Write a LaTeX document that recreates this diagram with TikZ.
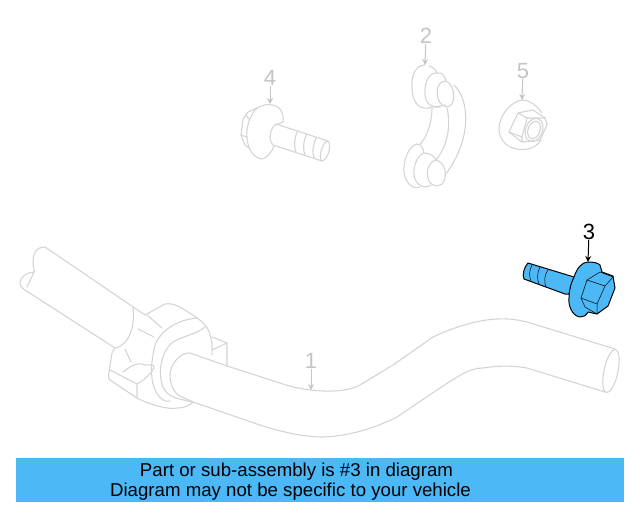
\documentclass[tikz,border=0pt]{standalone}
\usepackage{fontspec}
\setmainfont{Liberation Sans}
\usetikzlibrary{arrows.meta}
\usetikzlibrary{positioning}
\definecolor{ghostgray}{HTML}{D4D4D4}
\definecolor{labelgray}{HTML}{C4C4C4}
\definecolor{partblue}{HTML}{4DB8F6}
\tikzset{
  ghost/.style={draw=ghostgray,line width=1.1pt,line join=round,line cap=round},
  ghostlabel/.style={text=labelgray,font=\fontsize{22}{22}\selectfont,inner sep=0pt},
  ghostarrow/.style={draw=labelgray,line width=1pt,-{Stealth[length=6pt,width=6pt]}},
  part/.style={draw=black,line width=1pt,line join=round,fill=partblue},
  partline/.style={draw=black,line width=.5pt},
  banner/.style={fill=partblue,minimum width=608pt,minimum height=44pt,inner sep=0pt}
}
\begin{document}
\begin{tikzpicture}[x=1pt,y=-1pt]
    \useasboundingbox (0,0) rectangle (640,512);
    % sway bar
    \draw[ghost] (45,247) .. controls (35,247) and (33,255) .. (33,262) .. controls (33,268) and (35,272) .. (34,272) .. controls (28,272) and (20,277) .. (20,282) .. controls (20,286) and (22,288) .. (25,290) -- (115,348);
    \draw[ghost] (34,272) -- (27,287);
    \draw[ghost] (45,247) -- (145,315);
    \draw[ghost] (133,308) .. controls (135,325) and (130,345) .. (115,348);
    % clamp
    \draw[ghost] (145,315) -- (165,304) .. controls (175,302) and (185,310) .. (197,318) .. controls (208,325) and (213,335) .. (212,355);
    \draw[ghost] (115,348) -- (112,353) -- (109,372) .. controls (108,378) and (109,380) .. (110,380) -- (137,398) .. controls (150,405) and (170,410) .. (177,408) .. controls (185,408) and (190,405) .. (193,402);
    \draw[ghost] (110,370) -- (137,384) -- (137,398);
    \draw[ghost] (137,384) .. controls (145,380) and (152,372) .. (154,368) .. controls (155,364) and (148,365) .. (145,365) .. controls (138,362) and (132,365) .. (123,372);
    \draw[ghost] (125,349) -- (131,362);
    \draw[ghost] (138,329) -- (154,337);
    \draw[ghost] (147,315) -- (162,328);
    \draw[ghost] (197,318) .. controls (175,320) and (160,332) .. (155,345) .. controls (150,365) and (150,385) .. (158,395) .. controls (162,400) and (165,402) .. (170,401);
    \draw[ghost] (205,327) .. controls (195,335) and (185,335) .. (173,342) .. controls (160,352) and (158,375) .. (163,387) .. controls (168,397) and (175,398) .. (192,402);
    \draw[ghost] (212,337) -- (227,343) -- (227,366);
    \draw[ghost] (212,350) -- (227,343);
    % tube
    \draw[ghost] (190,353) .. controls (180,352) and (170,365) .. (170,375) .. controls (170,385) and (175,395) .. (182,397) -- (193,402) -- (257,424) .. controls (280,432) and (305,437) .. (323,437) .. controls (350,436) and (375,428) .. (397,417) -- (440,388) .. controls (460,375) and (470,368) .. (483,368) .. controls (495,366) and (510,365) .. (527,368) -- (605,392);
    \draw[ghost] (190,353) -- (227,366) -- (283,384) .. controls (300,390) and (340,396) .. (360,385) -- (393,365) -- (433,337) .. controls (465,322) and (490,318) .. (507,319) .. controls (515,319) and (522,321) .. (527,322) -- (615,349);
    \draw[ghost,rotate around={-12:(611,371)}] (611,371) ellipse (7 and 22);
    \node[ghostlabel] (lab1) at (311,361) {1};
    \coordinate (tip1) at (311,390);
    \draw[ghostarrow] (lab1) -- (tip1);
    % link
    \draw[ghost] (425,65) .. controls (416,65) and (411,75) .. (412,88) .. controls (412,100) and (418,110) .. (428,108) .. controls (432,106) and (440,107) .. (445,105);
    \draw[ghost] (429,66) .. controls (433,67) and (436,70) .. (437,73);
    \draw[ghost] (437,73) .. controls (428,72) and (424,85) .. (425,95) .. controls (426,104) and (432,108) .. (440,107);
    \draw[ghost] (437,73) .. controls (442,72) and (445,76) .. (446,81);
    \draw[ghost] (446,81) .. controls (438,81) and (436,90) .. (438,98) .. controls (440,106) and (446,108) .. (450,106) .. controls (456,102) and (455,85) .. (446,81);
    \draw[ghost] (454,85) .. controls (470,100) and (472,140) .. (445,175);
    \draw[ghost] (432,108) .. controls (432,125) and (425,140) .. (420,144);
    \draw[ghost] (447,108) .. controls (451,125) and (448,145) .. (436,160);
    \draw[ghost] (417,144) .. controls (408,146) and (403,162) .. (404,172) .. controls (405,182) and (412,190) .. (420,187);
    \draw[ghost] (417,144) .. controls (421,144) and (423,148) .. (424,153);
    \draw[ghost] (424,153) .. controls (418,155) and (413,165) .. (414,175) .. controls (415,184) and (424,190) .. (431,185);
    \draw[ghost] (424,153) .. controls (430,153) and (434,156) .. (436,160);
    \draw[ghost] (436,160) .. controls (428,162) and (426,172) .. (428,178) .. controls (430,187) and (438,187) .. (442,184) .. controls (448,178) and (446,162) .. (436,160);
    \node[ghostlabel] (lab2) at (426,36) {2};
    \coordinate (tip2) at (425,65);
    \draw[ghostarrow] (lab2) -- (tip2);
    % bolt
    \draw[ghost] (283,122) .. controls (284,114) and (281,108) .. (276,106) .. controls (268,103) and (260,105) .. (255,110) .. controls (249,118) and (246,128) .. (247,138) .. controls (248,150) and (254,158) .. (262,159) .. controls (267,158) and (272,152) .. (274,146);
    \draw[ghost] (283,122) -- (276,125);
    \node[ghostlabel] (lab4) at (270,78) {4};
    \coordinate (tip4) at (270,104);
    \draw[ghostarrow] (lab4) -- (tip4);
    \draw[ghost] (257,108) -- (248,112) -- (243,119) -- (241,135) -- (245,145) -- (249,148);
    \draw[ghost] (241,135) -- (247,137);
    \draw[ghost] (246,115) -- (249,119);
    \draw[ghost] (276,124) .. controls (270,128) and (268,140) .. (273,145);
    \draw[ghost] (276,124) -- (328,141);
    \draw[ghost] (273,145) -- (322,161);
    \draw[ghost] (328,141) .. controls (332,145) and (328,160) .. (322,161) .. controls (318,158) and (322,142) .. (328,141);
    \draw[ghost] (298,131) .. controls (294,136) and (294,148) .. (296,152);
    \draw[ghost] (307,134) .. controls (303,140) and (303,150) .. (305,155);
    \draw[ghost] (317,137) .. controls (313,143) and (312,152) .. (314,158);
    % nut
    \draw[ghost] (522,100) .. controls (510,102) and (500,115) .. (499,128) .. controls (499,138) and (505,146) .. (513,148) .. controls (522,151) and (535,150) .. (541,140);
    \draw[ghost] (522,100) .. controls (530,100) and (537,106) .. (542,113);
    \draw[ghost] (518,113) -- (533,110) -- (545,118) -- (547,125) -- (540,140) -- (522,142) -- (509,132) -- cycle;
    \draw[ghost] (518,113) -- (527,118) -- (545,118);
    \draw[ghost] (509,132) -- (522,137) -- (522,142);
    \draw[ghost] (527,118) -- (522,137);
    \draw[ghost,rotate around={-20:(534,130)}] (534,130) ellipse (8.5 and 12);
    \draw[ghost,rotate around={-20:(534,130)}] (534,130) ellipse (6 and 9);
    \node[ghostlabel] (lab5) at (523,71) {5};
    \coordinate (tip5) at (522,100);
    \draw[ghostarrow] (lab5) -- (tip5);
    % part 3
    \draw[part] (528,263) -- (574,277) -- (569,294) -- (565,294) -- (524,279) .. controls (522,275) and (524,267) .. (528,263) -- cycle;
    \draw[partline] (532,265) .. controls (529,270) and (529,277) .. (531,281);
    \draw[partline] (540,267) .. controls (537,272) and (537,280) .. (539,284);
    \draw[partline] (548,270) .. controls (544,275) and (544,282) .. (546,287);
    \draw[part] (574,277) .. controls (577,268) and (582,262) .. (588,262) .. controls (594,262) and (598,263) .. (600,265) -- (602,272) -- (613,276) -- (615,288) -- (608,306) -- (597,314) -- (588,312) .. controls (586,316) and (583,317) .. (580,317) .. controls (572,316) and (568,305) .. (569,298) .. controls (569,290) and (571,283) .. (574,277) -- cycle;
    \draw[partline] (587,280) -- (600,272) -- (613,277);
    \draw[partline] (587,280) -- (581,298) -- (585,307) -- (597,314);
    \draw[partline] (587,280) -- (605,286) -- (613,277);
    \draw[partline] (605,286) -- (597,304);
    \draw[partline] (581,298) -- (597,304) -- (597,314);
    \node[font=\fontsize{22}{22}\selectfont,inner sep=0pt] (lab3) at (589,232) {3};
    \coordinate (tip3) at (588,262);
    \draw[line width=1pt,-{Stealth[length=6pt,width=6pt]}] (lab3) -- (tip3);
    % banner
    \node[banner,anchor=north west] (note) at (16,458) {};
    \node[font=\fontsize{18.65}{19.5}\selectfont,inner sep=0pt] (line1) at (296.5,471.5) {Part or sub-assembly is \#3 in diagram};
    \node[font=\fontsize{18.65}{19.5}\selectfont,inner sep=0pt] (line2) at (290.5,492) {Diagram may not be specific to your vehicle};
  \end{tikzpicture}
\end{document}
